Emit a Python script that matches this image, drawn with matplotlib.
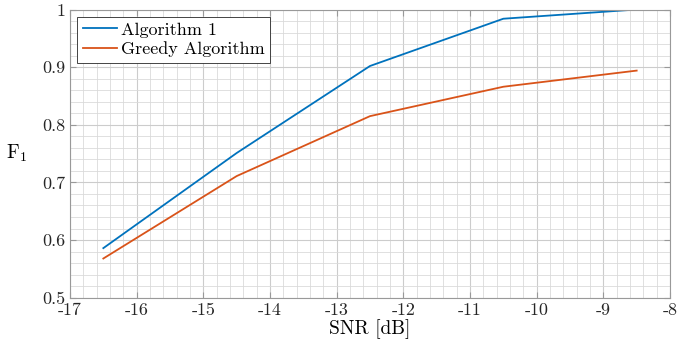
import numpy as np
import matplotlib
matplotlib.use("Agg")
import matplotlib.pyplot as plt
from matplotlib.ticker import MultipleLocator

# datos
snr = [-16.5, -14.5, -12.5, -10.5, -8.5]
f1_alg1 = [0.586, 0.751, 0.902, 0.984, 1.0]
f1_greedy = [0.568, 0.711, 0.815, 0.866, 0.894]
etiquetas = ['Algorithm 1', 'Greedy Algorithm']
xticks = list(range(-17, -7))
yticks = [0.5, 0.6, 0.7, 0.8, 0.9, 1.0]
ytick_txt = ['0.5', '0.6', '0.7', '0.8', '0.9', '1']

plt.rcParams['font.family'] = 'serif'
plt.rcParams['font.serif'] = ['cmr10', 'DejaVu Serif']
plt.rcParams['mathtext.fontset'] = 'cm'
plt.rcParams['axes.unicode_minus'] = False
plt.rcParams['axes.formatter.use_mathtext'] = True

fig = plt.figure(figsize=(6.8, 3.44), dpi=100)
ax = fig.add_axes([70/680, 1 - 297.7/344, 600/680, 288.2/344])

ax.plot(snr, f1_alg1, color='#0072BD', lw=1.3, label=etiquetas[0])
ax.plot(snr, f1_greedy, color='#D95319', lw=1.3, label=etiquetas[1])

ax.set_xlim(-17, -8)
ax.set_ylim(0.5, 1)
ax.set_xticks(xticks)
ax.set_xticklabels([str(v) for v in xticks])
ax.xaxis.set_minor_locator(MultipleLocator(0.2))
ax.set_yticks(yticks)
ax.set_yticklabels(ytick_txt)
ax.yaxis.set_minor_locator(MultipleLocator(0.02))

ax.grid(which='major', color='#cccccc', lw=0.8)
ax.grid(which='minor', color='#dadada', lw=0.6)
ax.set_axisbelow(True)
ax.tick_params(which='both', direction='in', top=True, right=True, colors='#262626', labelsize=13)
ax.tick_params(which='major', length=4, color='#999999')
ax.tick_params(which='minor', length=0)
for s in ax.spines.values():
    s.set_color('#999999')
    s.set_linewidth(0.8)

ax.set_xlabel('SNR [dB]', fontsize=14, labelpad=1)
ax.set_ylabel('F$_1$', fontsize=14, rotation=0, labelpad=18, va='center')

leg = ax.legend(loc='upper left', fontsize=13, handlelength=1.9, handletextpad=0.2,
                borderpad=0.3, labelspacing=0.2, fancybox=False, framealpha=1,
                borderaxespad=0.4)
leg.get_frame().set_edgecolor('#262626')
leg.get_frame().set_linewidth(0.6)

fig.savefig('out.png', dpi=100)
